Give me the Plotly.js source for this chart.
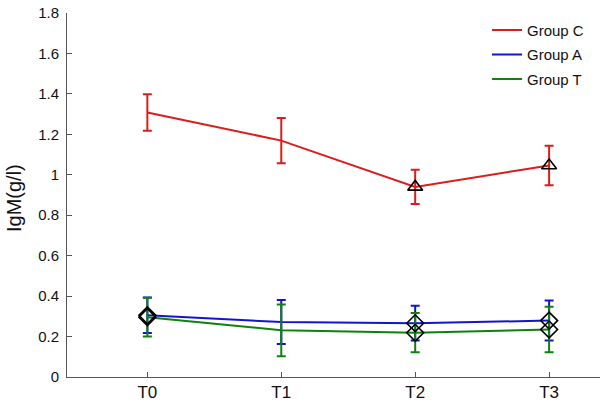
<!DOCTYPE html>
<html>
<head>
<meta charset="utf-8">
<script src="https://cdn.plot.ly/plotly-3.0.1.min.js"></script>
<style>html,body{margin:0;padding:0;background:#fff;}#chart{width:600px;height:404px;}</style>
</head>
<body>
<div id="chart"></div>
<script>
// ---- data ----
const timepoints = ['T0', 'T1', 'T2', 'T3'];
const seriesNames = ['Group C', 'Group A', 'Group T'];
const groupC = [1.308, 1.169, 0.940, 1.046];
const groupCErr = [0.090, 0.112, 0.085, 0.098];
const groupA = [0.305, 0.272, 0.266, 0.279];
const groupAErr = [0.088, 0.109, 0.086, 0.099];
const groupT = [0.296, 0.231, 0.219, 0.235];
const groupTErr = [0.096, 0.128, 0.097, 0.113];
// where the black symbols are drawn
const markC = [false, false, true, true];
const markA = [true, false, true, true];
const markT = [true, false, true, true];

const colors = ['#dc1c1c', '#1414cc', '#108010'];
const values = [groupC, groupA, groupT];
const errs = [groupCErr, groupAErr, groupTErr];
const marks = [markC, markA, markT];
const symbols = ['triangle-up-open', 'diamond-open', 'diamond-open'];

const traces = [];
values.forEach((v, i) => {
  traces.push({
    type: 'scatter', mode: 'lines', x: timepoints, y: v, name: seriesNames[i],
    legendgroup: 'g' + i,
    line: {color: colors[i], width: 2},
    error_y: {type: 'data', array: errs[i], visible: true, color: colors[i], thickness: 2, width: 4.5}
  });
});
values.forEach((v, i) => {
  traces.push({
    type: 'scatter', mode: 'markers', x: timepoints,
    y: v.map((val, k) => marks[i][k] ? val : null),
    showlegend: false, hoverinfo: 'skip',
    marker: {symbol: symbols[i], size: 13, color: '#000', line: {color: '#000', width: 1.6}}
  });
});

const layout = {
  width: 600, height: 404,
  margin: {l: 67, r: 0, t: 13, b: 27},
  paper_bgcolor: '#fff', plot_bgcolor: '#fff',
  font: {family: 'Liberation Sans, Arial, sans-serif', color: '#222'},
  showlegend: true,
  legend: {
    x: (487 - 67) / 533, xanchor: 'left', y: 0.998, yanchor: 'top',
    bgcolor: 'rgba(255,255,255,0)', borderwidth: 0,
    font: {size: 15, color: '#111'}, traceorder: 'grouped', tracegroupgap: 2
  },
  xaxis: {
    type: 'category', range: [-0.6, 3.38],
    showline: true, linecolor: '#555', linewidth: 1,
    ticks: 'inside', ticklen: 5, tickcolor: '#555',
    showgrid: false, zeroline: false,
    tickfont: {size: 17, color: '#111'}
  },
  yaxis: {
    range: [0, 1.8], dtick: 0.2, tick0: 0,
    showline: true, linecolor: '#555', linewidth: 1,
    ticks: 'inside', ticklen: 5, tickcolor: '#555',
    showgrid: false, zeroline: false,
    tickfont: {size: 15, color: '#111'}, ticklabelstandoff: 4
  },
  annotations: [{
    text: 'IgM(g/l)', textangle: -90, showarrow: false,
    xref: 'paper', yref: 'paper',
    x: (14 - 67) / 533, y: (377 - 198) / 364, xanchor: 'center', yanchor: 'middle',
    font: {size: 20, color: '#111'}
  }]
};

Plotly.newPlot('chart', traces, layout, {displayModeBar: false, staticPlot: true});
</script>
</body>
</html>
